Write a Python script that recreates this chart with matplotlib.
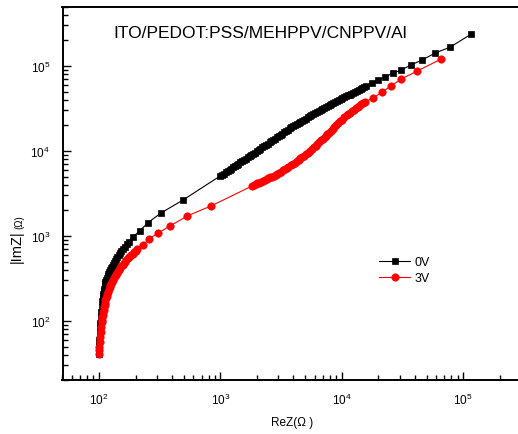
import matplotlib
matplotlib.use("Agg")
import matplotlib.pyplot as plt

plt.rcParams['font.family'] = ['Liberation Sans', 'DejaVu Sans']
plt.rcParams['mathtext.fontset'] = 'custom'
plt.rcParams['mathtext.rm'] = 'Liberation Sans'
plt.rcParams['mathtext.it'] = 'Liberation Sans:italic'

title = "ITO/PEDOT:PSS/MEHPPV/CNPPV/Al"
labels = ["0V", "3V"]

# 0V sweep (ReZ, |ImZ|), high ReZ first
re_0v = [117000, 78300, 58900, 46000, 37300, 30900, 26500, 22800, 20000, 17800,
         15800, 15300, 14800, 14300, 13800, 13350, 12900, 12450, 12000, 11600,
         11200, 10850, 10500, 10100, 9770, 9440, 9120, 8810, 8510, 8220,
         7940, 7670, 7410, 7160, 6920, 6690, 6460, 6240, 6030, 5820,
         5620, 5430, 5250, 5070, 4900, 4730, 4570, 4420, 4270, 4120,
         3980, 3850, 3720, 3590, 3470, 3350, 3240, 3130, 3020, 2920,
         2820, 2720, 2630, 2540, 2450, 2370, 2290, 2215, 2140, 2070,
         2000, 1930, 1860, 1800, 1740, 1680, 1620, 1565, 1510, 1460,
         1410, 1365, 1320, 1275, 1230, 1190, 1150, 1110, 1070, 1035, 1000,
         492, 324, 254, 216, 192, 175, 169, 163, 158, 153, 149, 145, 141,
         138, 135, 132, 129.5, 127, 125, 123, 121, 119, 117.5, 116, 114.5,
         113, 112, 111, 110, 109, 108, 107, 106, 105, 104, 103, 102, 101.5,
         101, 100.5, 100, 100, 100]
im_0v = [238000, 167000, 142000, 118000, 103000, 89700, 82700, 74300, 68400, 63000,
         57500, 56300, 55200, 53800, 52500, 51200, 49900, 48600, 47400, 46200,
         45100, 44000, 42900, 41800, 40700, 39700, 38700, 37700, 36800, 35900,
         35000, 34100, 33200, 32200, 31300, 30400, 29600, 28700, 27900, 27100,
         26400, 25600, 24800, 24100, 23400, 22700, 22100, 21500, 20900, 20300,
         19700, 19000, 18400, 17800, 17200, 16600, 16000, 15500, 15000, 14500,
         14000, 13540, 13100, 12640, 12200, 11800, 11400, 11000, 10600, 10260,
         9930, 9600, 9290, 8980, 8690, 8400, 8110, 7850, 7590, 7340,
         7100, 6870, 6640, 6420, 6210, 6010, 5810, 5620, 5430, 5260, 5100,
         2650, 1866, 1440, 1145, 985, 850, 800, 750, 705, 660, 625, 590, 560,
         530, 505, 480, 457, 435, 415, 395, 375, 355, 337, 320, 302,
         285, 270, 255, 240, 225, 210, 195, 170, 148, 128, 110, 95, 82,
         70, 60, 52, 45, 41]

# 3V sweep
re_3v = [66000, 41900, 30900, 25500, 21500, 18200,
         15500, 15000, 14500, 14000, 13500, 13050, 12600, 12150, 11700, 11350,
         11000, 10500, 10000, 9660, 9330, 9010, 8710, 8410, 8130, 7850,
         7590, 7410, 7240, 7000, 6760, 6530, 6310, 6100, 5890, 5690,
         5500, 5370, 5250, 5070, 4900, 4730, 4570, 4420, 4270, 4120,
         3980, 3800, 3630, 3510, 3390, 3270, 3160, 3050, 2950, 2850,
         2750, 2660, 2570, 2480, 2400, 2320, 2240, 2160, 2090, 2020,
         1950, 1880, 1820,
         837, 531, 385, 306, 258, 231, 207,
         200, 195, 190, 185, 181, 177, 173, 168, 164, 160, 157, 153, 150, 147,
         144, 141, 138, 135.5, 133, 130.5, 128, 126, 124, 122, 120, 118.5,
         117, 115.5, 114, 113, 112, 111, 110, 109, 108, 107, 106.5, 105.5,
         105, 104, 103, 102, 101, 100.5, 100, 100]
im_3v = [121000, 87300, 70300, 58200, 49400, 42000,
         38000, 36700, 35500, 34300, 33100, 31800, 30600, 29400, 28300, 27200,
         26200, 24800, 23400, 22300, 21200, 20200, 19200, 18200, 17300, 16500,
         15700, 15200, 14700, 14000, 13300, 12700, 12100, 11500, 11000, 10500,
         10000, 9750, 9510, 9160, 8830, 8500, 8190, 7890, 7600, 7320,
         7050, 6760, 6480, 6280, 6090, 5900, 5720, 5540, 5370, 5250,
         5130, 5010, 4890, 4780, 4670, 4560, 4450, 4350, 4250, 4150,
         4060, 3960, 3870,
         2255, 1717, 1312, 1084, 922, 784, 703,
         660, 640, 620, 600, 580, 562, 545, 522, 500, 480, 460, 440, 420, 402,
         385, 367, 350, 334, 318, 303, 288, 275, 262, 248, 235, 222,
         210, 197, 185, 175, 165, 155, 145, 136, 127, 118, 110, 103,
         96, 84, 74, 65, 57, 50, 45, 41]

fig = plt.figure(figsize=(5.18, 4.35), dpi=100)
ax = fig.add_axes([62.5 / 518, 53.6 / 435, 458.5 / 518, 373.8 / 435])

ax.plot(re_0v, im_0v, color='black', lw=0.8, marker='s', ms=4.6, mew=0.5,
        mec='black', mfc='black', label=labels[0])
ax.plot(re_3v, im_3v, color='red', lw=0.8, marker='o', ms=5.3, mew=0.5,
        mec='red', mfc='red', label=labels[1])

ax.set_xscale('log')
ax.set_yscale('log')
ax.set_xlim(50, 3e5)
ax.set_ylim(20, 5e5)

for s in ax.spines.values():
    s.set_linewidth(1.4)
ax.tick_params(which='both', direction='in', top=False, right=False, width=1,
               labelsize=8.5)
ax.tick_params(which='major', length=6)
ax.tick_params(which='minor', length=3.5)
ax.tick_params(axis='x', pad=8)
ax.tick_params(axis='y', pad=9)

ax.text(113 / 518, 1 - 33 / 435, title, transform=fig.transFigure,
        fontsize=12.5, ha='left', va='center')

fig.text(292 / 518, 1 - 423 / 435, "ReZ(Ω )", fontsize=8.5,
         ha='center', va='center')
fig.text(17 / 518, 1 - 263 / 435, "|ImZ|", fontsize=10.5, rotation=90,
         rotation_mode='anchor', ha='left', va='center')
fig.text(19 / 518, 1 - 229 / 435, "(Ω)", fontsize=7, rotation=90,
         rotation_mode='anchor', ha='left', va='center')

ax.legend(loc='center left', bbox_to_anchor=(379 / 518, 1 - 271 / 435),
          bbox_transform=fig.transFigure, frameon=False, fontsize=9,
          handlelength=2.5, handletextpad=0.35, labelspacing=0.3,
          borderpad=0, borderaxespad=0)

fig.savefig("out.png", dpi=100)
